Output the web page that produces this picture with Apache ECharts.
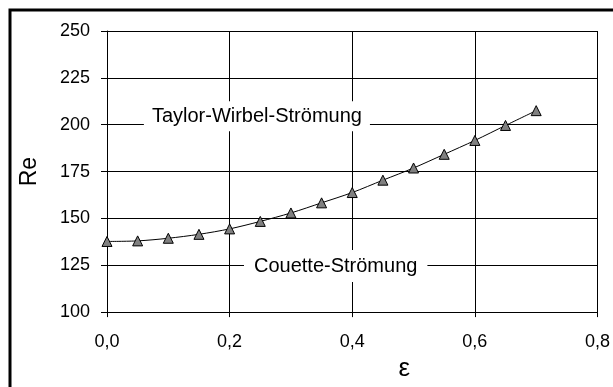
<!DOCTYPE html>
<html><head><meta charset="utf-8">
<script src="https://cdn.jsdelivr.net/npm/echarts@6/dist/echarts.min.js"></script>
<style>html,body{margin:0;padding:0;background:#fff}#c{width:613px;height:387px}</style>
</head><body><div id="c"></div>
<script>
const epsilon = [0.0,0.05,0.1,0.15,0.2,0.25,0.3,0.35,0.4,0.45,0.5,0.55,0.6,0.65,0.7];
const reynolds = [137.7,138.0,139.4,141.5,144.4,148.4,152.9,158.3,163.8,170.4,176.9,184.2,191.6,199.6,207.5];
const annotations = [
  {text:'Taylor-Wirbel-Strömung', x:0.2445, y:204.5, pad:[5,8]},
  {text:'Couette-Strömung', x:0.373, y:124.6, pad:[6,10]}
];
const FF = '"Liberation Sans", Arial, sans-serif';
const chart = echarts.init(document.getElementById('c'), null, {renderer:'canvas'});
const option = {
  animation:false,
  backgroundColor:'#fff',
  grid:{left:107,right:12,top:31,bottom:67},
  xAxis:{type:'value',min:0,max:0.8,interval:0.2,
    name:'ε',nameLocation:'middle',nameGap:34,
    nameTextStyle:{fontFamily:FF,fontSize:26,color:'#000',padding:[8,0,0,104]},
    axisLine:{lineStyle:{color:'#000',width:1}},
    axisTick:{show:true,length:5,lineStyle:{color:'#000'}},
    axisLabel:{fontFamily:FF,fontSize:18,color:'#000',margin:21,
      formatter:v=>v.toFixed(1).replace('.',',')},
    splitLine:{show:true,lineStyle:{color:'#000',width:1}}},
  yAxis:{type:'value',min:100,max:250,interval:25,
    name:'Re',nameLocation:'middle',nameGap:66,nameRotate:90,
    nameTextStyle:{fontFamily:FF,fontSize:23,color:'#000'},
    axisLine:{show:true,lineStyle:{color:'#000',width:1}},
    axisTick:{show:true,length:6,lineStyle:{color:'#000'}},
    axisLabel:{fontFamily:FF,fontSize:18,color:'#000',margin:17},
    splitLine:{show:true,lineStyle:{color:'#000',width:1}}},
  series:[{type:'line',data:epsilon.map((e,i)=>[e,reynolds[i]]),
    smooth:0.3,symbol:'triangle',symbolSize:10,
    lineStyle:{color:'#000',width:1},
    itemStyle:{color:'#808080',borderColor:'#000',borderWidth:1}}]
};
chart.setOption(option);
const g = [{type:'rect',shape:{x:10,y:10,width:700,height:500},
  style:{fill:null,stroke:'#000',lineWidth:3},z:100}];
annotations.forEach(a=>{
  const p = chart.convertToPixel({gridIndex:0},[a.x,a.y]);
  g.push({type:'text',x:p[0],y:p[1],z:50,
    style:{text:a.text,font:'20px '+FF,fill:'#000',align:'center',verticalAlign:'middle',
      backgroundColor:'#fff',padding:a.pad}});
});
chart.setOption({graphic:g});
</script></body></html>
